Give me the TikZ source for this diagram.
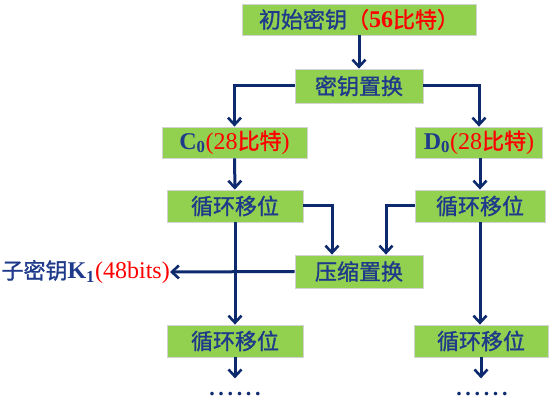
\documentclass[tikz,border=0pt]{standalone}
\usepackage{fontspec}
\setmainfont{Liberation Serif}
\newfontfamily\cjk[FakeBold=1.2]{Noto Sans CJK SC}
\usetikzlibrary{arrows.meta}

\definecolor{boxgreen}{HTML}{92D050}
\definecolor{textblue}{HTML}{1F3A8A}
\definecolor{linenavy}{HTML}{0E2A6E}
\definecolor{keyred}{HTML}{FF0000}

\newcommand\lat{\rmfamily\fontsize{24}{26}\selectfont}

\tikzset{
  keybox/.style={draw=gray!35, line width=0.8pt, fill=boxgreen, text=textblue,
    minimum height=31pt, inner sep=0pt, font=\fontsize{22}{24}\selectfont\cjk},
  arr/.style={draw=linenavy, line width=3pt,
    -{Straight Barb[length=7pt,width=13pt,line width=2.6pt]}}
}

\begin{document}
\begin{tikzpicture}[x=1pt,y=-1pt]
\useasboundingbox (0,0) rectangle (550,406);

% Key boxes
\node[keybox, minimum width=234pt] (initkey) at (359,19.5) {初始密钥\textcolor{keyred}{（{\lat\bfseries 56}比特）}};
\node[keybox, minimum width=128pt, minimum height=34pt] (keyperm) at (359,86) {密钥置换};
\node[keybox, minimum width=145pt] (czero) at (234.5,142.5) {{\lat\bfseries C\textsubscript{0}}\textcolor{keyred}{{\lat(28}比特{\lat)}}};
\node[keybox, minimum width=127pt] (dzero) at (479,142.5) {{\lat\bfseries D\textsubscript{0}}\textcolor{keyred}{{\lat(28}比特{\lat)}}};

% Shift boxes
\node[keybox, minimum width=136pt, minimum height=32pt] (shiftla) at (235,206) {循环移位};
\node[keybox, minimum width=130pt, minimum height=32pt] (shiftra) at (480,206) {循环移位};
\node[keybox, minimum width=128pt, minimum height=33pt] (compress) at (359,271.5) {压缩置换};
\node[keybox, minimum width=136pt, minimum height=32pt] (shiftlb) at (235,341) {循环移位};
\node[keybox, minimum width=134pt, minimum height=32pt] (shiftrb) at (481,341) {循环移位};

% Output key and dots
\node[text=textblue, font=\fontsize{22}{24}\selectfont\cjk, inner sep=0pt, anchor=east] (subkey) at (170,272)
  {子密钥{\lat\bfseries K\textsubscript{1}}\textcolor{keyred}{\lat(48bits)}};
\node[text=linenavy, font=\fontsize{22}{24}\selectfont\bfseries, inner sep=0pt] (dotsl) at (235,394) {.\,.\,.\,.\,.\,.};
\node[text=linenavy, font=\fontsize{22}{24}\selectfont\bfseries, inner sep=0pt] (dotsr) at (482,394) {.\,.\,.\,.\,.\,.};

% Connectors
\draw[arr] (initkey) -- (keyperm);
\draw[arr] (keyperm.west) -| (czero.north);
\draw[arr] (keyperm.east) -| (dzero.north);
\draw[arr] (czero) -- (shiftla);
\draw[arr] (dzero.south -| shiftra.north) -- (shiftra.north);
\draw[arr] (shiftla.east) -| ([xshift=-27pt]compress.north);
\draw[arr] (shiftra.west) -| ([xshift=27pt]compress.north);
\draw[arr] (compress.west) -- (subkey.east);
\draw[arr] (shiftla) -- (shiftlb);
\draw[arr] (shiftra.south) -- (shiftra.south |- shiftrb.north);
\draw[arr] (shiftlb.south) -- ++(0,21);
\draw[arr] (shiftrb.south) -- ++(0,21);

\end{tikzpicture}
\end{document}
